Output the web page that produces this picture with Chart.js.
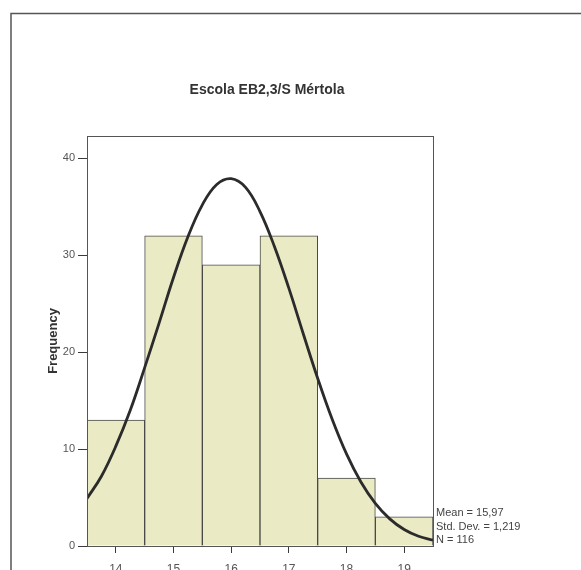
<!DOCTYPE html>
<html>
<head>
<meta charset="utf-8">
<script src="https://cdn.jsdelivr.net/npm/chart.js@4/dist/chart.umd.min.js"></script>
<style>
  html, body { margin: 0; padding: 0; background: #fff; overflow: hidden; }
  #wrap { position: relative; width: 581px; height: 600px; }
</style>
</head>
<body>
<div id="wrap"><canvas id="myChart" width="581" height="600"></canvas></div>
<script>
// histogram bins (grade) and counts
const bins = [14, 15, 16, 17, 18, 19];
const counts = [13, 32, 29, 32, 7, 3];

// normal curve
const curveX = [13.5, 13.75, 14, 14.25, 14.5, 14.75, 15, 15.25, 15.5, 15.75, 16, 16.25,
  16.5, 16.75, 17, 17.25, 17.5, 17.75, 18, 18.25, 18.5, 18.75, 19, 19.25, 19.5];
const curveY = [4.9, 7.2, 10.3, 14.0, 18.4, 23.0, 27.7, 31.9, 35.2, 37.3, 37.9, 37.0,
  34.5, 30.9, 26.6, 21.9, 17.3, 13.1, 9.5, 6.6, 4.4, 2.8, 1.7, 1.0, 0.6];

const yTicks = [0, 10, 20, 30, 40];
const stats = ['Mean = 15,97', 'Std. Dev. = 1,219', 'N = 116'];
const titleText = 'Escola EB2,3/S Mértola';

const ctx = document.getElementById('myChart');
const lineCol = '#3a3a3a';
const fontFam = '"Liberation Sans", Arial, sans-serif';

const framePlugin = {
  id: 'frame',
  afterDraw(chart) {
    const c = chart.ctx;
    const a = chart.chartArea;
    c.save();
    // outer page border
    c.strokeStyle = '#555';
    c.lineWidth = 1.5;
    c.beginPath();
    c.moveTo(11, 700);
    c.lineTo(11, 13.5);
    c.lineTo(581, 13.5);
    c.stroke();
    // plot box
    c.lineWidth = 1;
    c.strokeRect(Math.round(a.left) + 0.5, Math.round(a.top) + 0.5,
      Math.round(a.right - a.left), Math.round(a.bottom - a.top));
    // title
    c.fillStyle = '#333';
    c.font = 'bold 14px ' + fontFam;
    c.textAlign = 'center';
    c.textBaseline = 'middle';
    c.fillText(titleText, 267, 90);
    // stats text
    c.fillStyle = '#444';
    c.font = '11px ' + fontFam;
    c.textAlign = 'left';
    stats.forEach((s, i) => {
      c.fillText(s, a.right + 3, 513 + i * 13.5);
    });
    c.restore();
  }
};

const chart = new Chart(ctx, {
  data: {
    datasets: [
      {
        type: 'line',
        data: curveX.map((x, i) => ({ x, y: curveY[i] })),
        borderColor: '#2b2b2b',
        borderWidth: 2.8,
        pointRadius: 0,
        tension: 0.4,
        fill: false,
        order: 0
      },
      {
        type: 'bar',
        data: bins.map((b, i) => ({ x: b, y: counts[i] })),
        backgroundColor: 'rgb(234,234,196)',
        borderColor: '#4a4a4a',
        borderWidth: 1,
        borderSkipped: 'start',
        barPercentage: 1,
        categoryPercentage: 1,
        order: 1
      }
    ]
  },
  options: {
    responsive: false,
    animation: false,
    layout: { padding: { left: 46, right: 148, top: 136, bottom: 24 } },
    plugins: {
      legend: { display: false },
      tooltip: { enabled: false },
      title: { display: false }
    },
    scales: {
      x: {
        type: 'linear',
        min: 13.5,
        max: 19.5,
        offset: false,
        afterBuildTicks: (scale) => { scale.ticks = bins.map(v => ({ value: v })); },
        grid: { offset: false, drawOnChartArea: false, drawTicks: true, tickLength: 7, color: lineCol },
        border: { display: true, color: lineCol },
        ticks: {
          color: '#555',
          padding: 9,
          font: { family: fontFam, size: 12 }
        },
        afterFit: (scale) => { scale.height = 30; }
      },
      y: {
        min: 0,
        max: 42.3,
        afterBuildTicks: (scale) => { scale.ticks = yTicks.map(v => ({ value: v })); },
        grid: { drawOnChartArea: false, drawTicks: true, tickLength: 9, color: lineCol },
        border: { display: true, color: lineCol },
        ticks: {
          color: '#555',
          padding: 3,
          font: { family: fontFam, size: 11 }
        },
        title: {
          display: true,
          text: 'Frequency',
          color: '#333',
          padding: { top: 0, bottom: 0 },
          font: { family: fontFam, size: 13, weight: 'bold' }
        },
        afterFit: (scale) => { scale.width = 41; }
      }
    }
  },
  plugins: [framePlugin]
});
</script>
</body>
</html>
